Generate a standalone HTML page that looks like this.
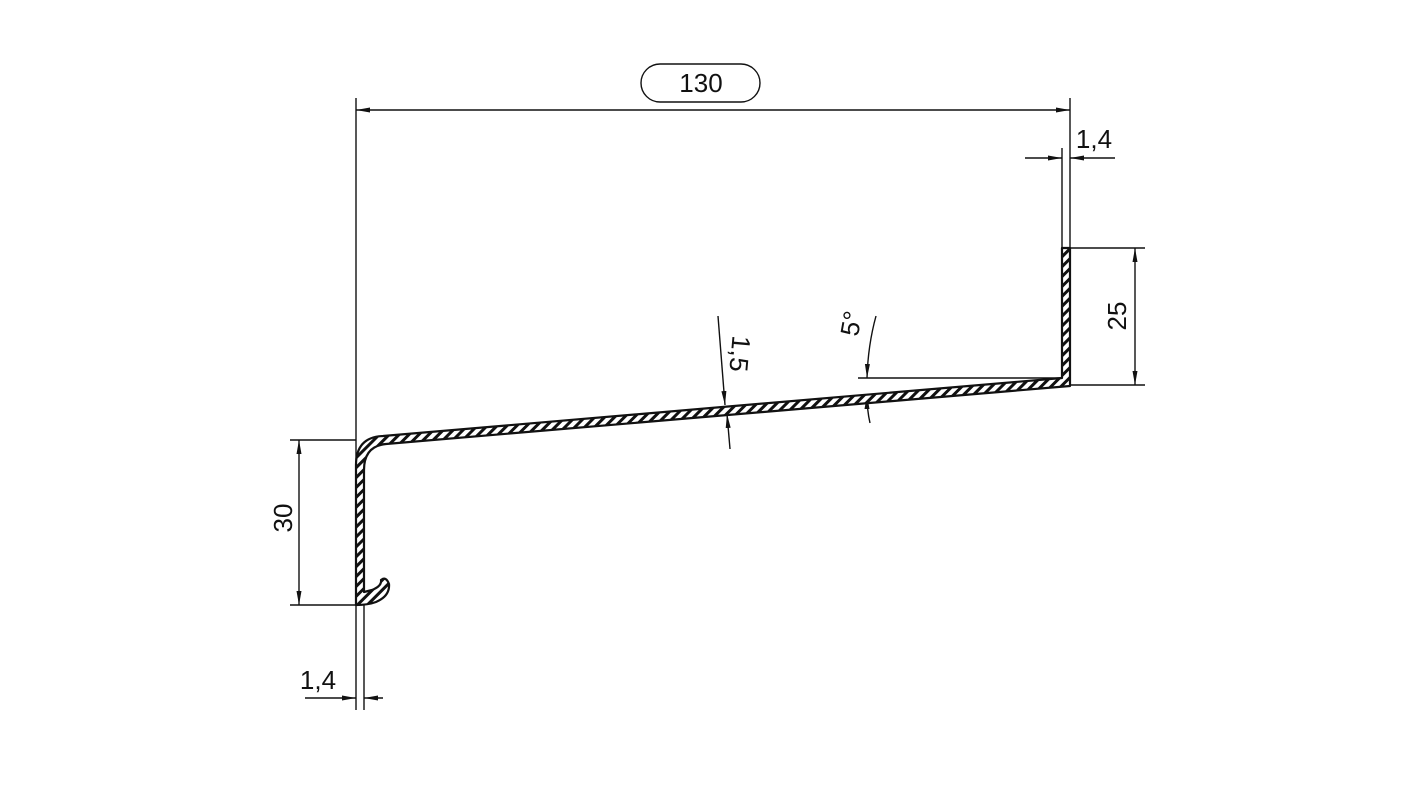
<!DOCTYPE html>
<html><head><meta charset="utf-8"><style>
html,body{margin:0;padding:0;background:#fff;}
svg{display:block;}
text{font-family:"Liberation Sans",sans-serif;font-size:26px;fill:#111;}
</style></head><body>
<svg width="1423" height="800" viewBox="0 0 1423 800" xmlns="http://www.w3.org/2000/svg">
<defs>
<pattern id="h" patternUnits="userSpaceOnUse" width="7" height="7" patternTransform="rotate(45)">
<rect width="7" height="7" fill="#fff"/>
<rect width="3" height="7" fill="#111"/>
</pattern>
<marker id="a" viewBox="0 0 14 6" refX="14" refY="3" markerWidth="14" markerHeight="6" orient="auto-start-reverse" markerUnits="userSpaceOnUse">
<path d="M0,0.5 L14,3 L0,5.5 Z" fill="#111"/>
</marker>
</defs>
<g stroke="#111" stroke-width="1.4" fill="none">
<line x1="356" y1="98" x2="356" y2="710"/>
<line x1="364" y1="598" x2="364" y2="710"/>
<line x1="1070" y1="98" x2="1070" y2="248"/>
<line x1="1062" y1="148" x2="1062" y2="248"/>
<line x1="356" y1="110" x2="1070" y2="110" marker-start="url(#a)" marker-end="url(#a)"/>
<rect x="641" y="64" width="119" height="38" rx="19"/>
<line x1="1025" y1="158" x2="1062" y2="158" marker-end="url(#a)"/>
<line x1="1115" y1="158" x2="1070" y2="158" marker-end="url(#a)"/>
<line x1="1070" y1="248" x2="1145" y2="248"/>
<line x1="1070" y1="385" x2="1145" y2="385"/>
<line x1="1135" y1="248" x2="1135" y2="385" marker-start="url(#a)" marker-end="url(#a)"/>
<line x1="290" y1="440" x2="356" y2="440"/>
<line x1="290" y1="605" x2="360" y2="605"/>
<line x1="299" y1="440" x2="299" y2="605" marker-start="url(#a)" marker-end="url(#a)"/>
<line x1="305" y1="698" x2="356" y2="698" marker-end="url(#a)"/>
<line x1="383" y1="698" x2="364" y2="698" marker-end="url(#a)"/>
<line x1="718" y1="316" x2="725" y2="405" marker-end="url(#a)"/>
<line x1="730" y1="449" x2="727" y2="414" marker-end="url(#a)"/>
<line x1="858" y1="378" x2="1062" y2="378"/>
<path d="M876,316 Q868,345 867,378" marker-end="url(#a)"/>
<path d="M870,423 Q867,410 867,395" marker-end="url(#a)"/>
</g>
<path d="M1062,248 L1070,248 L1070,386 L386,444 Q364,446 364,470 L364,592 L372,590 Q382,586 381,580 Q386,576 389,584 Q390,596 376,602 Q368,605 356,605 L356,465 Q356,437 383,436 L1062,378 Z" fill="url(#h)" stroke="#111" stroke-width="2.2" stroke-linejoin="round"/>
<text x="701" y="92" text-anchor="middle">130</text>
<text x="1094" y="148" text-anchor="middle">1,4</text>
<text x="318" y="689" text-anchor="middle">1,4</text>
<text transform="translate(1126,316) rotate(-90)" text-anchor="middle">25</text>
<text transform="translate(292,518) rotate(-90)" text-anchor="middle">30</text>
<text transform="translate(731,353) rotate(95)" text-anchor="middle">1,5</text>
<text transform="translate(860,325) rotate(-80)" text-anchor="middle">5°</text>
</svg>
</body></html>
